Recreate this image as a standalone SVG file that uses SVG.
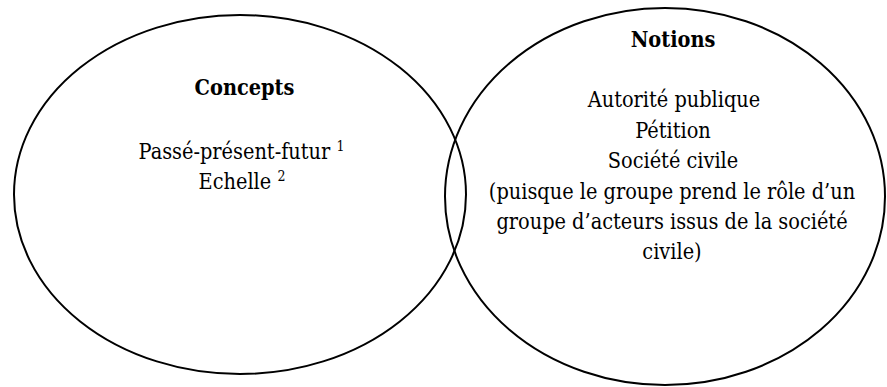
<svg xmlns="http://www.w3.org/2000/svg" width="887" height="387" viewBox="0 0 887 387">
<style>
.shape{fill:none;stroke:#000;stroke-width:2}
text{font-family:'DejaVu Serif Condensed','DejaVu Serif',serif;font-stretch:condensed;font-size:21.5px;fill:#000;text-anchor:middle}
.t{font-weight:bold}
.sup{font-size:14px}
</style>
<rect width="887" height="387" fill="#fff"/>
<g id="concepts">
<ellipse class="shape" cx="240" cy="194.5" rx="226" ry="179.5"/>
<text class="t" x="244.5" y="95">Concepts</text>
<text x="241.5" y="159">Passé-présent-futur <tspan class="sup" dy="-8">1</tspan></text>
<text x="242" y="189">Echelle <tspan class="sup" dy="-8">2</tspan></text>
</g>
<g id="notions">
<ellipse class="shape" cx="665" cy="196.5" rx="220" ry="188.5"/>
<text class="t" x="673" y="46.5">Notions</text>
<text x="674" y="107.3">Autorité publique</text>
<text x="673" y="137.7">Pétition</text>
<text x="673" y="168.1">Société civile</text>
<text x="672" y="198.5">(puisque le groupe prend le rôle d’un</text>
<text x="672" y="228.9">groupe d’acteurs issus de la société</text>
<text x="672" y="259.3">civile)</text>
</g>
<g id="connectors"></g>
</svg>
